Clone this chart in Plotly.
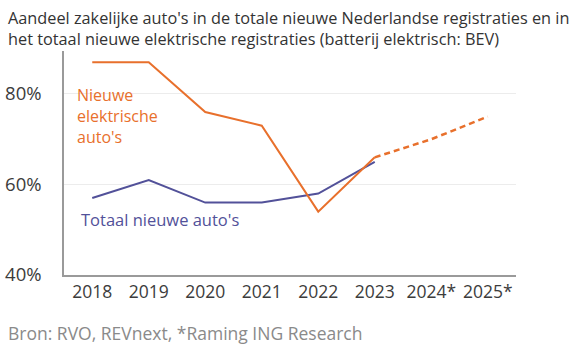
import plotly.graph_objects as go

years = ["2018", "2019", "2020", "2021", "2022", "2023", "2024*", "2025*"]
bev_actual = [87, 87, 76, 73, 54, 66, None, None]
bev_forecast = [None, None, None, None, None, 66, 70, 75]
total_actual = [57, 61, 56, 56, 58, 65, None, None]
y_ticks = [40, 60, 80]
y_tick_labels = ["40%", "60%", "80%"]

ORANGE = "#E8702C"
INDIGO = "#525199"
TEXT = "#3c3c3c"
FONT = "Open Sans"

W, H = 588, 358
L, R, T, B = 64, 72, 51, 83

fig = go.Figure()
fig.add_trace(go.Scatter(x=years, y=total_actual, mode="lines",
                         line=dict(color=INDIGO, width=2), hoverinfo="skip"))
fig.add_trace(go.Scatter(x=years, y=bev_actual, mode="lines",
                         line=dict(color=ORANGE, width=2), hoverinfo="skip"))
fig.add_trace(go.Scatter(x=years, y=bev_forecast, mode="lines",
                         line=dict(color=ORANGE, width=2.5, dash="6px,4px"), hoverinfo="skip"))

fig.update_layout(
    width=W, height=H,
    margin=dict(l=L, r=R, t=T, b=B, autoexpand=False),
    paper_bgcolor="white", plot_bgcolor="white",
    showlegend=False,
    font=dict(family=FONT, color=TEXT),
)
fig.update_xaxes(
    type="category", range=[-0.5, 7.5], automargin=False,
    showline=True, linecolor="#9a9a9a", linewidth=1.5,
    showgrid=False, ticks="", tickfont=dict(size=17.5, color=TEXT),
    fixedrange=True,
)
fig.update_yaxes(
    range=[40, 89.5], tickvals=y_ticks, ticktext=y_tick_labels, automargin=False,
    showline=True, linecolor="#9a9a9a", linewidth=1.5,
    showgrid=True, gridcolor="#ececec", gridwidth=1,
    zeroline=False, ticks="", tickfont=dict(size=18.5, color=TEXT),
    ticklabelstandoff=17, fixedrange=True,
)

fig.add_annotation(x=6, y=5, xref="paper", yref="paper", xanchor="left", yanchor="top",
                   text="Aandeel zakelijke auto's in de totale nieuwe Nederlandse registraties en in<br>het totaal nieuwe elektrische registraties (batterij elektrisch: BEV)",
                   showarrow=False, align="left",
                   font=dict(family=FONT, size=16.3, color="#333333"))
fig.add_annotation(x=-0.3, y=82.7, xref="x", yref="y", xanchor="left", yanchor="top",
                   text="Nieuwe<br>elektrische<br>auto's", showarrow=False, align="left",
                   font=dict(family=FONT, size=16, color=ORANGE))
fig.add_annotation(x=-0.23, y=52.2, xref="x", yref="y", xanchor="left", yanchor="middle",
                   text="Totaal nieuwe auto's", showarrow=False, align="left",
                   font=dict(family=FONT, size=16.5, color=INDIGO))
fig.add_annotation(x=6, y=333, xref="paper", yref="paper", xanchor="left", yanchor="middle",
                   text="Bron: RVO, REVnext, *Raming ING Research", showarrow=False,
                   font=dict(family=FONT, size=17.5, color="#8a8a8a"))

# convert pixel positions of paper annotations to paper fractions
pw, ph = W - L - R, H - T - B
for i in (0, 3):
    a = fig.layout.annotations[i]
    a.update(x=(a.x - L) / pw, y=(H - B - a.y) / ph)

fig.write_html("out.html", config={"displayModeBar": False},
               post_script="document.body.style.margin='0';")
